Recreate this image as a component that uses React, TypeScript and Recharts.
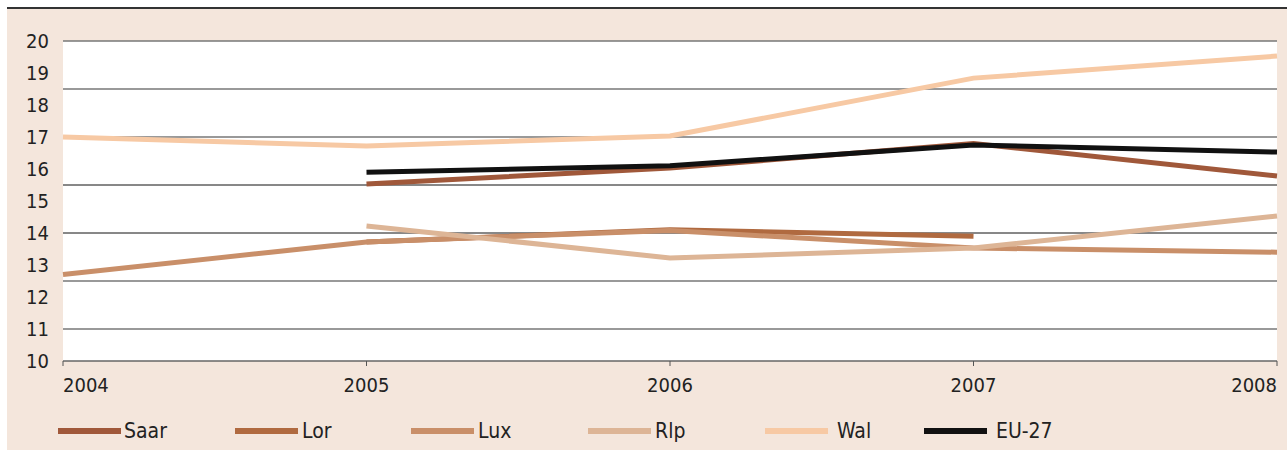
import React from 'react';
import { LineChart, Line, XAxis, YAxis, CartesianGrid, ReferenceLine } from 'recharts';

// ---- data ----
const years = [2004, 2005, 2006, 2007, 2008];
const saar = [null, 15.53, 16.03, 16.8, 15.78];
const lor = [null, 13.72, 14.1, 13.9, null];
const lux = [12.7, 13.72, 14.08, 13.53, 13.4];
const rlp = [null, 14.22, 13.22, 13.53, 14.53];
const wal = [17.0, 16.72, 17.03, 18.84, 19.53];
const eu27 = [null, 15.9, 16.1, 16.75, 16.53];

const yTicks = [10, 11, 12, 13, 14, 15, 16, 17, 18, 19, 20];
const gridLight = [20, 18.5, 17, 12.5, 11];
const gridDark = [15.5, 14];

const SERIES = [
  { key: 'saar', name: 'Saar', color: '#A0583A', values: saar },
  { key: 'lor', name: 'Lor', color: '#B06A40', values: lor },
  { key: 'lux', name: 'Lux', color: '#C98F69', values: lux },
  { key: 'rlp', name: 'Rlp', color: '#DDB596', values: rlp },
  { key: 'wal', name: 'Wal', color: '#F7C9A4', values: wal },
  { key: 'eu', name: 'EU-27', color: '#111111', values: eu27 },
];

const data = years.map((year, i) => {
  const row: Record<string, number | null> = { year };
  SERIES.forEach(s => { row[s.key] = s.values[i]; });
  return row;
});

const BG = '#F4E6DC';
const FONT = '"DejaVu Sans Condensed", "Liberation Sans Narrow", sans-serif';
// legend swatch left edges and swatch→text gaps, as laid out in the original
const LEGEND_X = [58, 235, 411, 588, 765, 924];
const LEGEND_GAP = [3, 4, 4, 4, 9, 9];

// first/last year labels hug the plot edges like the original
function XTick({ x, y, payload, index }: any) {
  const last = years.length - 1;
  const anchor = index === 0 ? 'start' : index === last ? 'end' : 'middle';
  return (
    <text x={x} y={y + 26} textAnchor={anchor} fill="#222" fontSize={20} fontFamily={FONT}>
      {payload.value}
    </text>
  );
}

export default function App() {
  return (
    <div style={{ position: 'absolute', left: 0, top: 0, width: 1287, height: 450, backgroundColor: '#fff' }}>
      {/* beige panel with dark top rule */}
      <div style={{ position: 'absolute', left: 7, top: 7, width: 1280, height: 441, backgroundColor: BG, borderTop: '2px solid #333' }} />
      <div style={{ position: 'absolute', left: 0, top: 0 }}>
        <LineChart width={1287} height={450} data={data}
          margin={{ top: 41, right: 10, bottom: 59, left: 7 }}>
          <CartesianGrid horizontal={false} vertical={false} fill="#fff" />
          {gridLight.map(v => (
            <ReferenceLine key={v} y={v} stroke="#777" strokeWidth={1.5} />
          ))}
          {gridDark.map(v => (
            <ReferenceLine key={v} y={v} stroke="#111" strokeWidth={1} />
          ))}
          <XAxis dataKey="year" height={30} tick={<XTick />} interval={0} tickSize={5} tickMargin={0}
            axisLine={{ stroke: '#666', strokeWidth: 1.5 }} tickLine={{ stroke: '#555' }} />
          <YAxis width={56} domain={[10, 20]} ticks={yTicks} interval={0} tickSize={0} tickMargin={14}
            axisLine={false} tickLine={false}
            tick={{ fill: '#222', fontSize: 20, fontFamily: FONT }} />
          {SERIES.map(s => (
            <Line key={s.key} dataKey={s.key} name={s.name} stroke={s.color} strokeWidth={5}
              dot={false} activeDot={false} isAnimationActive={false} strokeLinecap="butt" />
          ))}
        </LineChart>
      </div>
      {/* legend */}
      {SERIES.map((s, i) => (
        <div key={s.key} style={{ position: 'absolute', left: LEGEND_X[i], top: 419, display: 'flex', alignItems: 'center', height: 24 }}>
          <span style={{ display: 'inline-block', width: 63, height: 6, backgroundColor: s.color }} />
          <span style={{ marginLeft: LEGEND_GAP[i], fontFamily: FONT, fontSize: 21, color: '#222' }}>{s.name}</span>
        </div>
      ))}
    </div>
  );
}
